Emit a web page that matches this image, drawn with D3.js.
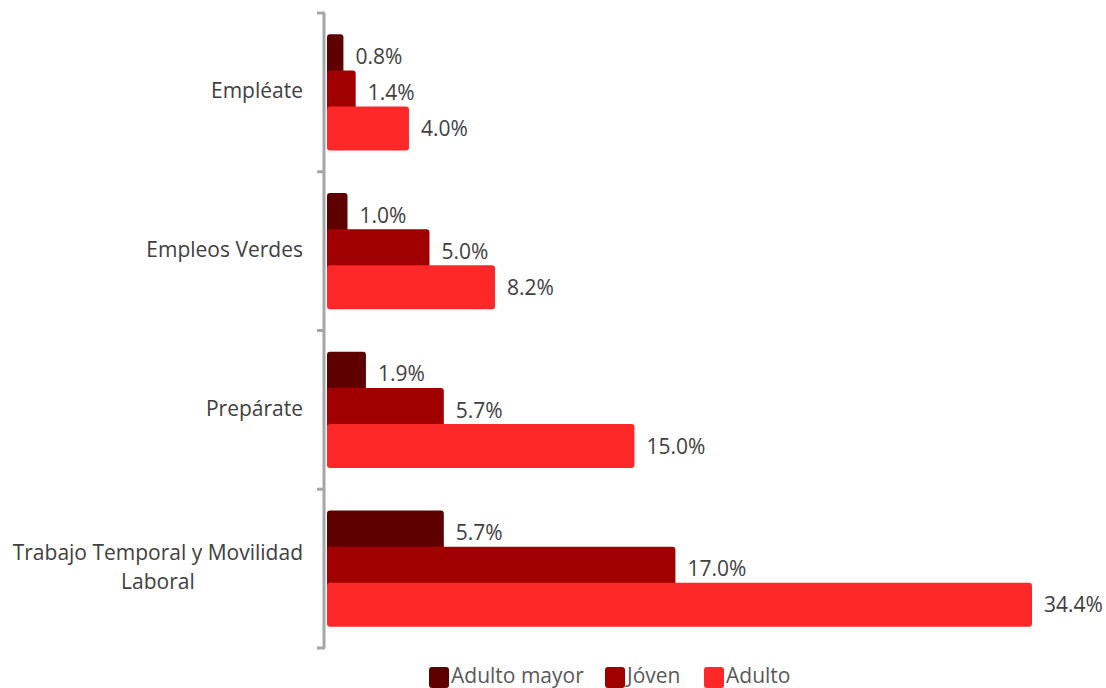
<!DOCTYPE html>
<html>
<head>
<meta charset="utf-8">
<script src="https://cdn.jsdelivr.net/npm/d3@7"></script>
<style>
  body { margin: 0; background: #fff; }
  svg { display: block; font-family: "Open Sans", "Noto Sans", sans-serif; }
</style>
</head>
<body>
<svg id="chart" width="1106" height="688"></svg>
<script>
const categories = ["Empléate", "Empleos Verdes", "Prepárate", "Trabajo Temporal y Movilidad Laboral"];
const series = ["Adulto mayor", "Jóven", "Adulto"];
const adultoMayor = [0.8, 1.0, 1.9, 5.7];
const joven = [1.4, 5.0, 5.7, 17.0];
const adulto = [4.0, 8.2, 15.0, 34.4];
const colors = ["#5f0000", "#a00000", "#ff2828"];
const labelLines = {"Trabajo Temporal y Movilidad Laboral": ["Trabajo Temporal y Movilidad", "Laboral"]};

const values = [adultoMayor, joven, adulto];
const svg = d3.select("#chart");
const textColor = "#404040";

const x = d3.scaleLinear().domain([0, 34.4]).range([327, 1032]);
const y = d3.scaleBand().domain(categories).range([13, 648]);
const bw = y.bandwidth();
const barStep = bw * 0.227;
const barH = bw * 0.277;
const groupH = barStep * 2 + barH;

// bars
series.forEach((s, si) => {
    const g = svg.append("g");
    g.selectAll("rect")
        .data(categories)
        .join("rect")
        .attr("x", x(0))
        .attr("y", c => y(c) + (bw - groupH) / 2 + si * barStep)
        .attr("width", (c, i) => x(values[si][i]) - x(0))
        .attr("height", barH)
        .attr("rx", 3)
        .attr("fill", colors[si]);

    g.selectAll("text")
        .data(categories)
        .join("text")
        .attr("x", (c, i) => x(values[si][i]) + 12)
        .attr("y", c => y(c) + (bw - groupH) / 2 + si * barStep + barH / 2 + 2)
        .attr("dominant-baseline", "middle")
        .attr("font-size", 21)
        .attr("fill", textColor)
        .text((c, i) => values[si][i].toFixed(1) + "%");
});

// axis
const axisG = svg.append("g").attr("stroke", "#a6a6a6").attr("stroke-width", 3).attr("fill", "none");
axisG.append("line").attr("x1", 324).attr("x2", 324).attr("y1", y.range()[0]).attr("y2", y.range()[1]);
const tickYs = categories.map(c => y(c)).concat([y.range()[1]]);
axisG.selectAll(".tick").data(tickYs).join("line")
    .attr("x1", 317).attr("x2", 325)
    .attr("y1", d => d).attr("y2", d => d);

// category labels
categories.forEach(c => {
    const lines = labelLines[c] || [c];
    const t = svg.append("text")
        .attr("font-size", 21)
        .attr("fill", textColor)
        .attr("text-anchor", "middle");
    const lh = 29;
    const cy = y(c) + bw / 2 - (lines.length - 1) * lh / 2;
    lines.forEach((l, i) => {
        t.append("tspan").attr("y", cy + i * lh).attr("dominant-baseline", "middle").text(l);
    });
    const widths = t.selectAll("tspan").nodes().map(n => n.getComputedTextLength());
    const cx = 303 - d3.max(widths) / 2;
    t.selectAll("tspan").attr("x", cx);
});

// legend
const legendItems = [
    {name: series[0], color: colors[0], x: 429},
    {name: series[1], color: colors[1], x: 605},
    {name: series[2], color: colors[2], x: 704}
];
const lg = svg.append("g");
legendItems.forEach(d => {
    lg.append("rect").attr("x", d.x).attr("y", 667).attr("width", 20).attr("height", 21)
        .attr("rx", 3).attr("fill", d.color);
    lg.append("text").attr("x", d.x + 22).attr("y", 683)
        .attr("font-size", 21).attr("fill", "#595959").text(d.name);
});
</script>
</body>
</html>
